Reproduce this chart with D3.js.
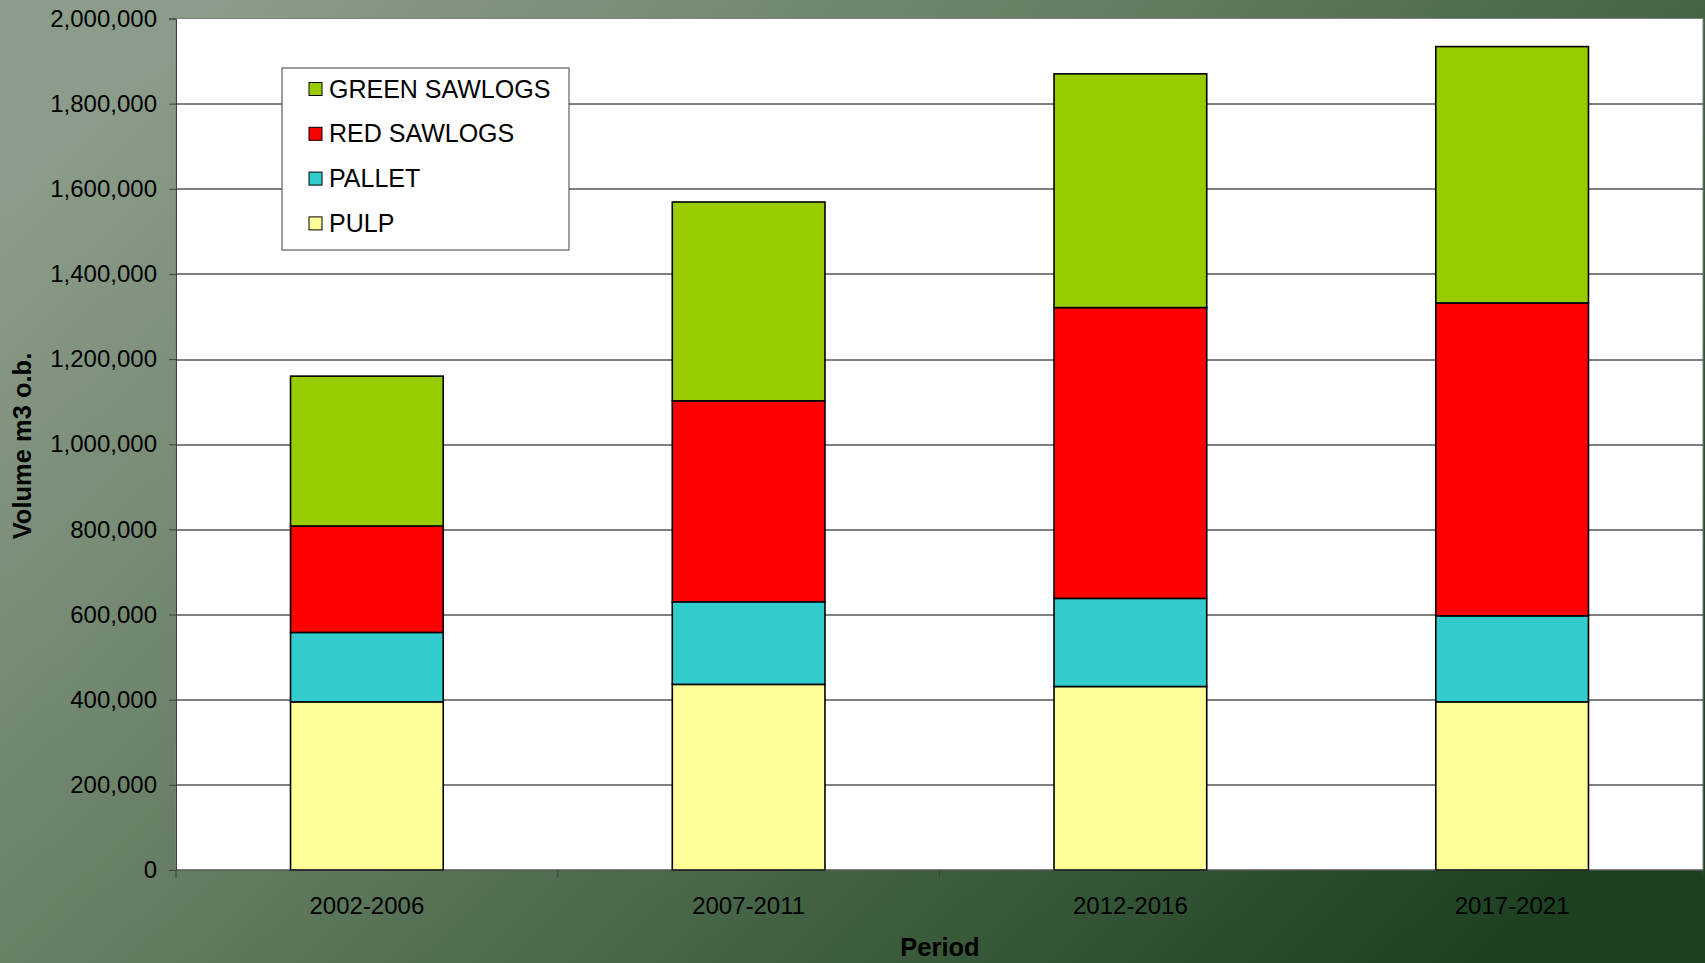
<!DOCTYPE html>
<html>
<head>
<meta charset="utf-8">
<script src="https://cdn.jsdelivr.net/npm/d3@7"></script>
<style>
  html, body { margin: 0; padding: 0; overflow: hidden; }
  body { width: 1705px; height: 963px; }
  text { font-family: "Liberation Sans", Arial, sans-serif; }
</style>
</head>
<body>
<div id="chart"></div>
<script>
// 数据
var periods = ["2002-2006", "2007-2011", "2012-2016", "2017-2021"];
var pulp = [395000, 436000, 431000, 395000];
var pallet = [163000, 194000, 207000, 202000];
var redSawlogs = [250000, 472000, 683000, 735000];
var greenSawlogs = [352000, 467000, 549000, 602000];
var seriesNames = ["PULP", "PALLET", "RED SAWLOGS", "GREEN SAWLOGS"];
var seriesColors = ["#FFFF99", "#33CCCC", "#FF0000", "#99CC00"];
var yTicks = [0, 200000, 400000, 600000, 800000, 1000000, 1200000, 1400000, 1600000, 1800000, 2000000];

var width = 1705, height = 963;
var margin = { top: 18.5, right: 2, bottom: 93, left: 176 };
var plotWidth = width - margin.left - margin.right;
var plotHeight = height - margin.top - margin.bottom;

var svg = d3.select("#chart").append("svg")
  .attr("width", width)
  .attr("height", height);

// 背景渐变
var defs = svg.append("defs");
var grad = defs.append("linearGradient").attr("id", "bg")
  .attr("x1", "0").attr("y1", "0.2").attr("x2", "1").attr("y2", "0.8");
grad.append("stop").attr("offset", "0").attr("stop-color", "#8c9c8a");
grad.append("stop").attr("offset", "0.35").attr("stop-color", "#6a8168");
grad.append("stop").attr("offset", "0.7").attr("stop-color", "#3f5f40");
grad.append("stop").attr("offset", "1").attr("stop-color", "#1c4020");
svg.append("rect").attr("width", width).attr("height", height).attr("fill", "url(#bg)");

var table = periods.map(function(p, i) {
  return { period: p, "PULP": pulp[i], "PALLET": pallet[i], "RED SAWLOGS": redSawlogs[i], "GREEN SAWLOGS": greenSawlogs[i] };
});
var stacked = d3.stack().keys(seriesNames)(table);

var xScale = d3.scaleBand()
  .domain(periods)
  .range([0, plotWidth])
  .paddingInner(0.6)
  .paddingOuter(0.3);
var yScale = d3.scaleLinear()
  .domain([0, 2000000])
  .range([plotHeight, 0]);
var color = d3.scaleOrdinal().domain(seriesNames).range(seriesColors);

var plot = svg.append("g")
  .attr("transform", `translate(${margin.left}, ${margin.top})`);

plot.append("rect")
  .attr("width", plotWidth).attr("height", plotHeight)
  .attr("fill", "white").attr("stroke", "#808080").attr("stroke-width", 1);

// 网格线
plot.selectAll(".grid")
  .data(yTicks.filter(d => d > 0 && d < 2000000))
  .join("line")
  .attr("x1", 0).attr("x2", plotWidth)
  .attr("y1", d => Math.round(yScale(d)) + 0.5)
  .attr("y2", d => Math.round(yScale(d)) + 0.5)
  .attr("stroke", "black").attr("stroke-width", 1);

// 柱子
plot.selectAll(".layer")
  .data(stacked)
  .join("g")
  .attr("fill", d => color(d.key))
  .selectAll("rect")
  .data(d => d)
  .join("rect")
  .attr("x", d => xScale(d.data.period))
  .attr("y", d => yScale(d[1]))
  .attr("width", xScale.bandwidth())
  .attr("height", d => yScale(d[0]) - yScale(d[1]))
  .attr("stroke", "black")
  .attr("stroke-width", 1.6);

// y 坐标轴
var yAxis = d3.axisLeft(yScale)
  .tickValues(yTicks)
  .tickSize(7)
  .tickPadding(12)
  .tickFormat(d3.format(","));
var yg = plot.append("g").call(yAxis);
yg.select(".domain").attr("stroke", "#404040");
yg.selectAll(".tick line").attr("stroke", "#404040");
yg.selectAll("text").attr("font-size", "24px").attr("fill", "black")
  .attr("font-family", "Liberation Sans, Arial, sans-serif");

// x 坐标轴
var step = xScale.step();
var xg = plot.append("g").attr("transform", `translate(0, ${plotHeight})`);
xg.append("line").attr("x1", 0).attr("x2", plotWidth).attr("y1", 0).attr("y2", 0)
  .attr("stroke", "#404040");
xg.selectAll(".xtick")
  .data(d3.range(periods.length + 1))
  .join("line")
  .attr("x1", i => i * step).attr("x2", i => i * step)
  .attr("y1", 0).attr("y2", 8)
  .attr("stroke", "#404040");
xg.selectAll(".xlabel")
  .data(periods)
  .join("text")
  .attr("x", d => xScale(d) + xScale.bandwidth() / 2)
  .attr("y", 44)
  .attr("text-anchor", "middle")
  .attr("font-size", "24px")
  .attr("fill", "black")
  .text(d => d);

// 轴标题
svg.append("text")
  .attr("transform", "translate(31, 446) rotate(-90)")
  .attr("text-anchor", "middle")
  .attr("font-size", "25.5px")
  .attr("font-weight", "bold")
  .attr("fill", "black")
  .text("Volume m3 o.b.");
svg.append("text")
  .attr("x", 940).attr("y", 956)
  .attr("text-anchor", "middle")
  .attr("font-size", "25.5px")
  .attr("font-weight", "bold")
  .attr("fill", "black")
  .text("Period");

// 图例
var legendNames = seriesNames.slice().reverse();
var legend = svg.append("g").attr("transform", "translate(282, 68)");
legend.append("rect")
  .attr("width", 287).attr("height", 182)
  .attr("fill", "white").attr("stroke", "#404040").attr("stroke-width", 1);
var items = legend.selectAll(".item")
  .data(legendNames)
  .join("g")
  .attr("transform", (d, i) => `translate(27, ${21 + i * 44.8})`);
items.append("rect")
  .attr("x", 0).attr("y", -6.5)
  .attr("width", 13).attr("height", 13)
  .attr("fill", d => color(d))
  .attr("stroke", "black").attr("stroke-width", 1);
items.append("text")
  .attr("x", 20).attr("y", 8.5)
  .attr("font-size", "25px")
  .attr("fill", "black")
  .text(d => d);
</script>
</body>
</html>
